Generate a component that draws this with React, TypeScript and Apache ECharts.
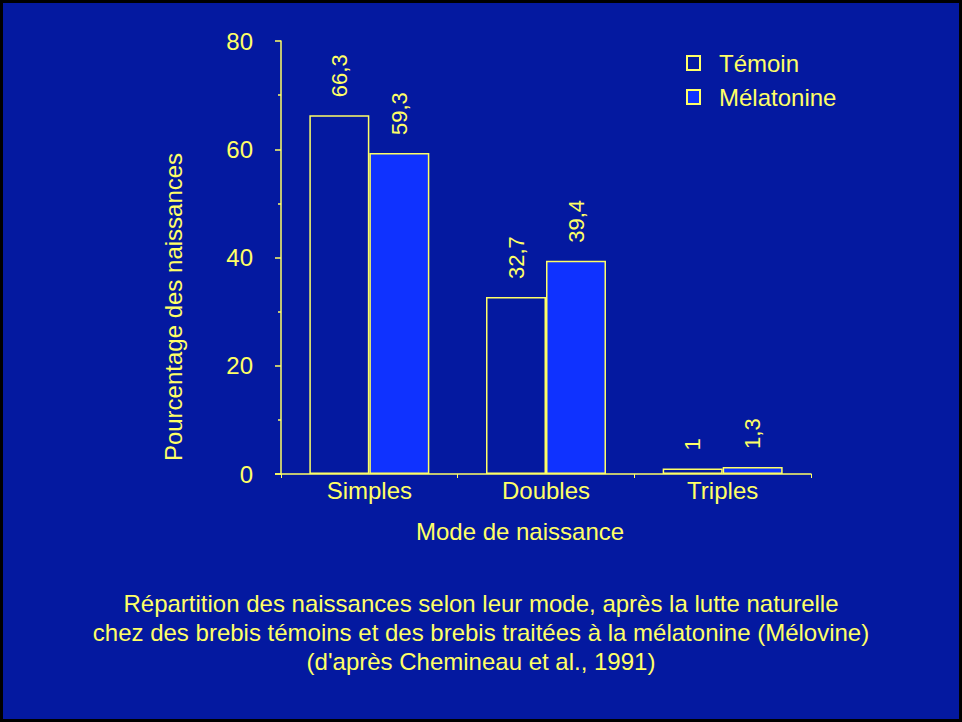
import React, { useEffect, useRef } from "react";
import * as echarts from "echarts";

const categories = ["Simples", "Doubles", "Triples"];
const temoin = [66.3, 32.7, 1];
const melatonine = [59.3, 39.4, 1.3];
const seriesNames = ["Témoin", "Mélatonine"];
const yTicks = { min: 0, max: 80, interval: 20 };
const yAxisName = "Pourcentage des naissances";
const xAxisName = "Mode de naissance";
const captionLines = [
  "Répartition des naissances selon leur mode, après la lutte naturelle",
  "chez des brebis témoins et des brebis traitées à la mélatonine (Mélovine)",
  "(d'après Chemineau et al., 1991)",
];

const BG = "#0419A0";
const YELLOW = "#FFFF66";
const BLUE = "#0F32FF";
const FONT = "Liberation Sans, Arial, sans-serif";

export default function App() {
  const ref = useRef<HTMLDivElement>(null);
  useEffect(() => {
    if (!ref.current) return;
    const chart = echarts.init(ref.current, null, { renderer: "svg" });
    const label = {
      show: true,
      position: "top",
      rotate: 90,
      align: "left",
      verticalAlign: "middle",
      distance: 18,
      color: YELLOW,
      fontSize: 22,
      fontFamily: FONT,
      formatter: (p: any) => String(p.value).replace(".", ","),
    };
    chart.setOption({
      animation: false,
      backgroundColor: BG,
      textStyle: { fontFamily: FONT },
      grid: { left: 281, top: 41, width: 530, height: 433, containLabel: false },
      legend: {
        left: 681,
        top: 46,
        orient: "vertical",
        itemWidth: 13,
        itemHeight: 14,
        itemGap: 10,
        icon: "rect",
        data: seriesNames,
        textStyle: {
          color: YELLOW,
          fontSize: 24,
          fontFamily: FONT,
          padding: [0, 0, 0, 14],
        },
      },
      xAxis: {
        type: "category",
        data: categories,
        axisLine: { lineStyle: { color: YELLOW, width: 1.5 } },
        axisTick: { show: true, length: 4, lineStyle: { color: YELLOW } },
        axisLabel: { color: YELLOW, fontSize: 24, fontFamily: FONT, margin: 4 },
      },
      yAxis: {
        type: "value",
        min: yTicks.min,
        max: yTicks.max,
        interval: yTicks.interval,
        axisLine: { show: true, lineStyle: { color: YELLOW, width: 1.5 } },
        axisTick: { show: true, length: 6, lineStyle: { color: YELLOW, width: 1.5 } },
        minorTick: { show: true, splitNumber: 2, length: 3, lineStyle: { color: YELLOW, width: 1.5 } },
        splitLine: { show: false },
        axisLabel: { color: YELLOW, fontSize: 24, fontFamily: FONT, margin: 28 },
      },
      series: [
        {
          name: seriesNames[0],
          type: "bar",
          data: temoin,
          barWidth: 60,
          barGap: "0%",
          itemStyle: { color: BG, borderColor: YELLOW, borderWidth: 1.5 },
          label,
        },
        {
          name: seriesNames[1],
          type: "bar",
          data: melatonine,
          barWidth: 60,
          itemStyle: { color: BLUE, borderColor: YELLOW, borderWidth: 1.5 },
          label,
        },
      ],
      graphic: [
        {
          type: "rect",
          shape: { x: 1.5, y: 1.5, width: 959, height: 719 },
          style: { fill: "none", stroke: "#000", lineWidth: 3 },
          silent: true,
        },
        {
          type: "line",
          shape: { x1: 275, y1: 474, x2: 281, y2: 474 },
          style: { stroke: YELLOW, lineWidth: 1.5 },
          silent: true,
        },
        {
          type: "text",
          x: 173,
          y: 307,
          rotation: Math.PI / 2,
          style: {
            text: yAxisName,
            fill: YELLOW,
            font: `24px ${FONT}`,
            textAlign: "center",
            textVerticalAlign: "middle",
          },
        },
        {
          type: "text",
          x: 520,
          y: 531,
          style: {
            text: xAxisName,
            fill: YELLOW,
            font: `24px ${FONT}`,
            textAlign: "center",
            textVerticalAlign: "middle",
          },
        },
        ...captionLines.map((t, i) => ({
          type: "text",
          x: 481,
          y: 603 + i * 29,
          style: {
            text: t,
            fill: YELLOW,
            font: `24px ${FONT}`,
            textAlign: "center",
            textVerticalAlign: "middle",
          },
        })),
      ],
    });
    return () => chart.dispose();
  }, []);
  return (
    <div
      ref={ref}
      style={{ position: "absolute", left: 0, top: 0, width: 962, height: 722 }}
    />
  );
}
